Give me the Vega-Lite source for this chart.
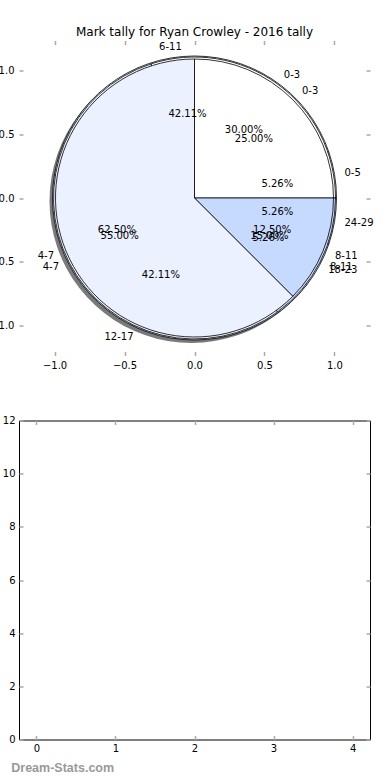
{
  "$schema": "https://vega.github.io/schema/vega-lite/v6.json",
  "background": "white",
  "padding": {"left": -11, "top": 25.5, "right": 0, "bottom": 0},
  "bounds": "flush",
  "spacing": 65,
  "config": {
    "font": "DejaVu Sans",
    "view": {"stroke": null},
    "axis": {
      "grid": false,
      "domain": false,
      "title": null,
      "labelFont": "DejaVu Sans",
      "labelFontSize": 10,
      "labelColor": "#000000",
      "tickColor": "#aaaaaa",
      "tickSize": -4,
      "tickWidth": 1.5,
      "labelPadding": 9
    },
    "text": {"font": "DejaVu Sans", "fontSize": 10, "color": "#000000"}
  },
  "datasets": {
    "pie1": [
      {"label": "0-3", "v": 2, "pct": "25.00%", "i": 0},
      {"label": "8-11", "v": 1, "pct": "12.50%", "i": 1},
      {"label": "4-7", "v": 5, "pct": "62.50%", "i": 2}
    ],
    "pie2": [
      {"label": "0-3", "v": 6, "pct": "30.00%", "i": 0},
      {"label": "8-11", "v": 3, "pct": "15.00%", "i": 1},
      {"label": "4-7", "v": 11, "pct": "55.00%", "i": 2}
    ],
    "pie3": [
      {"label": "0-5", "v": 1, "pct": "5.26%", "i": 0},
      {"label": "24-29", "v": 1, "pct": "5.26%", "i": 1},
      {"label": "18-23", "v": 1, "pct": "5.26%", "i": 2},
      {"label": "12-17", "v": 8, "pct": "42.11%", "i": 3},
      {"label": "6-11", "v": 8, "pct": "42.11%", "i": 4}
    ],
    "frame": [{"x": 0, "y": 0}]
  },
  "vconcat": [
    {
      "width": 351,
      "height": 315,
      "title": {"text": "Mark tally for Ryan Crowley - 2016 tally", "fontSize": 12, "fontWeight": "normal", "font": "DejaVu Sans", "color": "#000000", "offset": 1},
      "layer": [
        {
          "data": {"name": "frame"},
          "mark": {"type": "point", "opacity": 0},
          "encoding": {
            "x": {"field": "x", "type": "quantitative", "scale": {"domain": [-1.254, 1.254], "nice": false, "zero": false}, "axis": {"orient": "bottom", "values": [-1, -0.5, 0, 0.5, 1], "format": ".1f"}},
            "y": {"field": "y", "type": "quantitative", "scale": {"domain": [-1.236, 1.236], "nice": false, "zero": false}, "axis": {"orient": "left", "values": [-1, -0.5, 0, 0.5, 1], "format": ".1f"}}
          }
        },
        {
          "data": {"name": "frame"},
          "mark": {"type": "point", "opacity": 0},
          "encoding": {
            "x": {"field": "x", "type": "quantitative", "axis": {"orient": "top", "values": [-1, -0.5, 0, 0.5, 1], "labels": false}},
            "y": {"field": "y", "type": "quantitative", "axis": {"orient": "right", "values": [-1, -0.5, 0, 0.5, 1], "labels": false}}
          }
        },
        {
          "data": {"name": "pie3"},
          "mark": {"type": "arc", "outerRadius": 142, "color": "#333333", "opacity": 0.65, "xOffset": -3, "yOffset": 3},
          "encoding": {
            "theta": {"field": "v", "type": "quantitative", "stack": true, "scale": {"range": [1.2392, 7.5224]}},
            "order": {"field": "i", "type": "quantitative"}
          }
        },
        {
          "data": {"name": "pie3"},
          "mark": {"type": "arc", "outerRadius": 142, "stroke": "#000000", "strokeWidth": 0.8},
          "encoding": {
            "theta": {"field": "v", "type": "quantitative", "stack": true, "scale": {"range": [1.2392, 7.5224]}},
            "order": {"field": "i", "type": "quantitative"},
            "color": {"field": "i", "type": "ordinal", "scale": {"domain": [0, 1, 2, 3, 4], "range": ["#ffffff", "#c6d9ff", "#ebf1ff", "#ebf1ff", "#ffffff"]}, "legend": null}
          }
        },
        {
          "data": {"name": "pie2"},
          "mark": {"type": "arc", "outerRadius": 141, "stroke": "#000000", "strokeWidth": 0.8},
          "encoding": {
            "theta": {"field": "v", "type": "quantitative", "stack": true, "scale": {"range": [-0.3142, 5.9690]}},
            "order": {"field": "i", "type": "quantitative"},
            "color": {"field": "i", "type": "ordinal", "legend": null}
          }
        },
        {
          "data": {"name": "pie1"},
          "mark": {"type": "arc", "outerRadius": 139, "stroke": "#000000", "strokeWidth": 0.8},
          "encoding": {
            "theta": {"field": "v", "type": "quantitative", "stack": true, "scale": {"range": [0, 6.2832]}},
            "order": {"field": "i", "type": "quantitative"},
            "color": {"field": "i", "type": "ordinal", "legend": null}
          }
        },
        {
          "data": {"name": "pie3"},
          "mark": {"type": "text", "radius": 84},
          "encoding": {
            "theta": {"field": "v", "type": "quantitative", "stack": true, "scale": {"range": [1.2392, 7.5224]}},
            "order": {"field": "i", "type": "quantitative"},
            "text": {"field": "pct"}
          }
        },
        {
          "data": {"name": "pie3"},
          "mark": {"type": "text", "radius": 152, "align": "left"},
          "encoding": {
            "theta": {"field": "v", "type": "quantitative", "stack": true, "scale": {"range": [1.2392, 7.5224]}},
            "order": {"field": "i", "type": "quantitative"},
            "text": {"condition": {"test": "indexof(['0-3','8-11','0-5','24-29','18-23'], datum.label) >= 0", "field": "label"}, "value": ""}
          }
        },
        {
          "data": {"name": "pie3"},
          "mark": {"type": "text", "radius": 152, "align": "right"},
          "encoding": {
            "theta": {"field": "v", "type": "quantitative", "stack": true, "scale": {"range": [1.2392, 7.5224]}},
            "order": {"field": "i", "type": "quantitative"},
            "text": {"condition": {"test": "indexof(['4-7','12-17','6-11'], datum.label) >= 0", "field": "label"}, "value": ""}
          }
        },
        {
          "data": {"name": "pie2"},
          "mark": {"type": "text", "radius": 84},
          "encoding": {
            "theta": {"field": "v", "type": "quantitative", "stack": true, "scale": {"range": [-0.3142, 5.9690]}},
            "order": {"field": "i", "type": "quantitative"},
            "text": {"field": "pct"}
          }
        },
        {
          "data": {"name": "pie2"},
          "mark": {"type": "text", "radius": 152, "align": "left"},
          "encoding": {
            "theta": {"field": "v", "type": "quantitative", "stack": true, "scale": {"range": [-0.3142, 5.9690]}},
            "order": {"field": "i", "type": "quantitative"},
            "text": {"condition": {"test": "indexof(['0-3','8-11','0-5','24-29','18-23'], datum.label) >= 0", "field": "label"}, "value": ""}
          }
        },
        {
          "data": {"name": "pie2"},
          "mark": {"type": "text", "radius": 152, "align": "right"},
          "encoding": {
            "theta": {"field": "v", "type": "quantitative", "stack": true, "scale": {"range": [-0.3142, 5.9690]}},
            "order": {"field": "i", "type": "quantitative"},
            "text": {"condition": {"test": "indexof(['4-7','12-17','6-11'], datum.label) >= 0", "field": "label"}, "value": ""}
          }
        },
        {
          "data": {"name": "pie1"},
          "mark": {"type": "text", "radius": 84},
          "encoding": {
            "theta": {"field": "v", "type": "quantitative", "stack": true, "scale": {"range": [0, 6.2832]}},
            "order": {"field": "i", "type": "quantitative"},
            "text": {"field": "pct"}
          }
        },
        {
          "data": {"name": "pie1"},
          "mark": {"type": "text", "radius": 152, "align": "left"},
          "encoding": {
            "theta": {"field": "v", "type": "quantitative", "stack": true, "scale": {"range": [0, 6.2832]}},
            "order": {"field": "i", "type": "quantitative"},
            "text": {"condition": {"test": "indexof(['0-3','8-11','0-5','24-29','18-23'], datum.label) >= 0", "field": "label"}, "value": ""}
          }
        },
        {
          "data": {"name": "pie1"},
          "mark": {"type": "text", "radius": 152, "align": "right"},
          "encoding": {
            "theta": {"field": "v", "type": "quantitative", "stack": true, "scale": {"range": [0, 6.2832]}},
            "order": {"field": "i", "type": "quantitative"},
            "text": {"condition": {"test": "indexof(['4-7','12-17','6-11'], datum.label) >= 0", "field": "label"}, "value": ""}
          }
        }
      ],
      "resolve": {"scale": {"theta": "independent"}, "axis": {"x": "independent", "y": "independent"}}
    },
    {
      "width": 351,
      "height": 319,
      "view": {"stroke": "#000000", "strokeWidth": 1},
      "title": {"text": "Dream-Stats.com", "orient": "bottom", "anchor": "start", "frame": "bounds", "color": "#999999", "fontSize": 12.5, "fontWeight": "bold", "font": "Liberation Sans", "offset": 8, "dx": 9},
      "layer": [
        {
          "data": {"name": "frame"},
          "mark": {"type": "point", "opacity": 0},
          "encoding": {
            "x": {"field": "x", "type": "quantitative", "scale": {"domain": [-0.22, 4.22], "nice": false, "zero": false}, "axis": {"orient": "bottom", "values": [0, 1, 2, 3, 4], "labelPadding": 8}},
            "y": {"field": "y", "type": "quantitative", "scale": {"domain": [0, 12], "nice": false}, "axis": {"orient": "left", "values": [0, 2, 4, 6, 8, 10, 12], "labelPadding": 8}}
          }
        },
        {
          "data": {"name": "frame"},
          "mark": {"type": "point", "opacity": 0},
          "encoding": {
            "x": {"field": "x", "type": "quantitative", "axis": {"orient": "top", "values": [0, 1, 2, 3, 4], "labels": false}},
            "y": {"field": "y", "type": "quantitative", "axis": {"orient": "right", "values": [0, 2, 4, 6, 8, 10, 12], "labels": false}}
          }
        }
      ],
      "resolve": {"axis": {"x": "independent", "y": "independent"}}
    }
  ]
}
